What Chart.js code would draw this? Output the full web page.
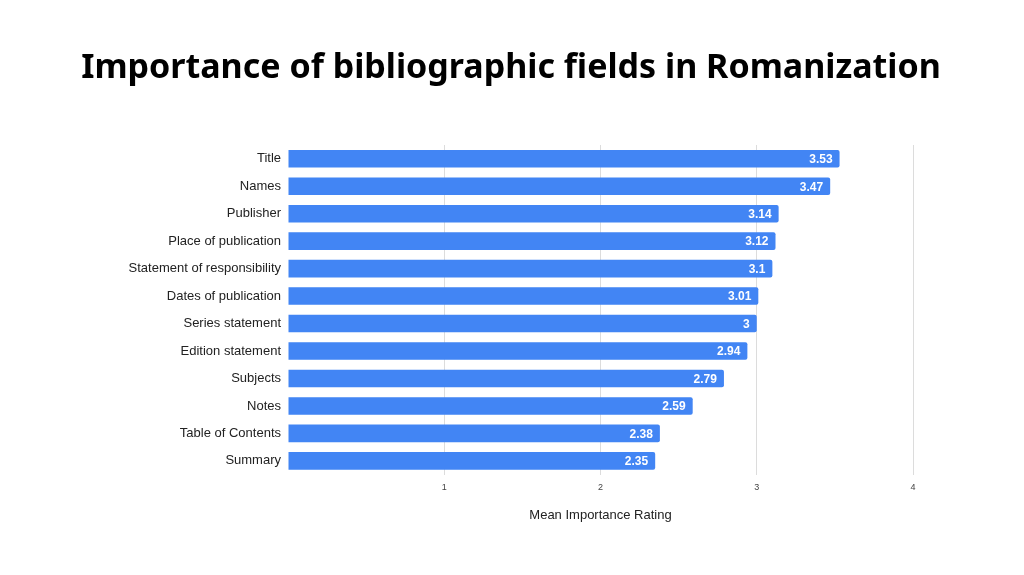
<!DOCTYPE html>
<html>
<head>
<meta charset="utf-8">
<script src="https://cdn.jsdelivr.net/npm/chart.js@4"></script>
<style>
  html, body { margin: 0; padding: 0; background: #fff; }
  #wrap { width: 1024px; height: 575px; }
</style>
</head>
<body>
<div id="wrap"><canvas id="barchart"></canvas></div>
<script>
var chartTitle = "Importance of bibliographic fields in Romanization";
var fields = ["Title", "Names", "Publisher", "Place of publication", "Statement of responsibility",
  "Dates of publication", "Series statement", "Edition statement", "Subjects", "Notes",
  "Table of Contents", "Summary"];
var ratings = [3.53, 3.47, 3.14, 3.12, 3.1, 3.01, 3, 2.94, 2.79, 2.59, 2.38, 2.35];
var axisTicks = [1, 2, 3, 4];

// page title centred on the whole canvas, and values inside the bar ends
var barLabels = {
  id: "barLabels",
  afterDraw: function (chart) {
    var ctx = chart.ctx;
    ctx.save();
    ctx.fillStyle = "#000000";
    ctx.font = "bold 34px 'Noto Sans', 'Open Sans', sans-serif";
    ctx.textAlign = "center";
    ctx.textBaseline = "alphabetic";
    ctx.fillText(chartTitle, 511, 78);

    var meta = chart.getDatasetMeta(0);
    ctx.fillStyle = "#ffffff";
    ctx.font = "bold 12px 'Liberation Sans', Arial, sans-serif";
    ctx.textAlign = "right";
    ctx.textBaseline = "middle";
    meta.data.forEach(function (bar, i) {
      ctx.fillText(String(ratings[i]), bar.x - 7, bar.y + 1);
    });
    ctx.restore();
  }
};

new Chart("barchart", {
  type: "bar",
  data: {
    labels: fields,
    datasets: [{
      data: ratings,
      backgroundColor: "#4285f4",
      borderRadius: 2,
      barPercentage: 0.8,
      categoryPercentage: 0.8
    }]
  },
  plugins: [barLabels],
  options: {
    indexAxis: "y",
    responsive: true,
    maintainAspectRatio: false,
    animation: false,
    layout: { padding: { left: 0, right: 111, top: 145, bottom: 52 } },
    plugins: {
      legend: { display: false },
      tooltip: { enabled: false },
      title: { display: false }
    },
    scales: {
      x: {
        min: 0,
        max: 4,
        afterBuildTicks: function (scale) {
          scale.ticks = [0].concat(axisTicks).map(function (v) { return { value: v }; });
        },
        border: { display: false },
        grid: {
          drawTicks: false,
          color: function (c) { return c.tick && c.tick.value === 0 ? "rgba(0,0,0,0)" : "#dcdcdc"; }
        },
        ticks: {
          padding: 8,
          color: "#444444",
          font: { family: "'Liberation Sans', Arial, sans-serif", size: 9 },
          callback: function (v) { return v === 0 ? "" : v; }
        },
        title: {
          display: true,
          text: "Mean Importance Rating",
          color: "#222222",
          font: { family: "'Liberation Sans', Arial, sans-serif", size: 13 },
          padding: { top: 6, bottom: 0 }
        }
      },
      y: {
        afterFit: function (scale) { scale.width = 288; },
        border: { display: false },
        grid: { display: false, drawTicks: false },
        ticks: {
          padding: 7,
          color: "#222222",
          font: { family: "'Liberation Sans', Arial, sans-serif", size: 13 }
        }
      }
    }
  }
});
</script>
</body>
</html>
